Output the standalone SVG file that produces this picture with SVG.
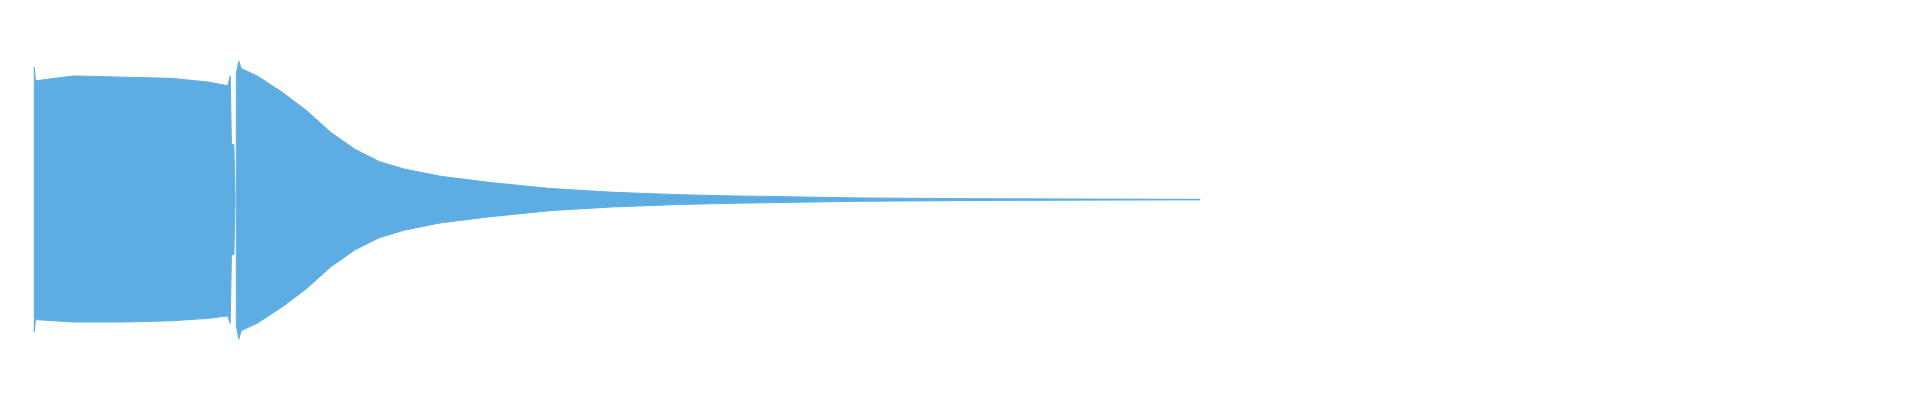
<svg xmlns="http://www.w3.org/2000/svg" width="1920" height="400" viewBox="0 0 1920 400">
<rect width="1920" height="400" fill="#fff"/>
<g transform="scale(1.22449)" fill="#5dade2" stroke="#5dade2" stroke-width="0.8">
<path d="M28,163 L28,55 L29,66 L60,62 L100,63 L140,64 L170,67 L186,70 L188,62 L189,118 L191,118 L192,163 L191,208 L189,208 L188,264 L186,258 L170,260 L140,262 L100,263 L60,263 L29,261 L28,271 Z"/>
<path d="M193,163 L193,60 L195,50 L197,56 L210,62 L230,75 L250,90 L270,108 L290,122 L310,132 L330,138 L360,144 L400,149 L450,154 L500,157 L555,159 L600,160 L700,161.6 L800,162.3 L980,162.8 L980,163.2 L800,163.7 L700,164.4 L600,166 L555,167 L500,169 L450,172 L400,177 L360,182 L330,188 L310,194 L290,204 L270,218 L250,236 L230,251 L210,264 L197,270 L195,277 L193,266 Z"/>
</g>
</svg>
